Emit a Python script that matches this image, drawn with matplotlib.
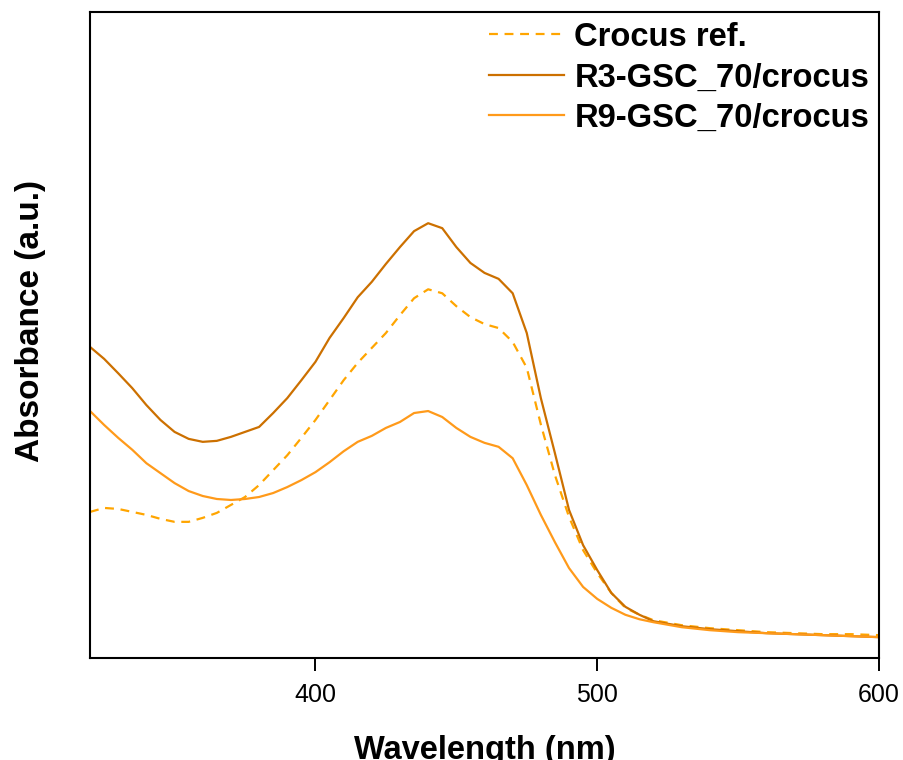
import numpy as np
import matplotlib.pyplot as plt

# wavelength grid (nm) and absorbance (a.u.)
wavelength = [320, 325, 330, 335, 340, 345, 350, 355, 360, 365, 370, 375, 380, 385,
              390, 395, 400, 405, 410, 415, 420, 425, 430, 435, 440, 445, 450, 455,
              460, 465, 470, 475, 480, 485, 490, 495, 500, 505, 510, 515, 520, 530,
              540, 550, 560, 570, 580, 590, 600]

crocus_ref = [0.294, 0.302, 0.300, 0.294, 0.288, 0.280, 0.274, 0.274, 0.282, 0.292,
              0.308, 0.324, 0.348, 0.378, 0.408, 0.443, 0.479, 0.519, 0.559, 0.594,
              0.624, 0.654, 0.690, 0.724, 0.742, 0.734, 0.708, 0.686, 0.672, 0.664,
              0.636, 0.584, 0.470, 0.368, 0.284, 0.217, 0.171, 0.131, 0.101, 0.087,
              0.076, 0.066, 0.060, 0.056, 0.052, 0.050, 0.048, 0.048, 0.046]

r3_gsc = [0.626, 0.602, 0.573, 0.543, 0.509, 0.479, 0.455, 0.441, 0.435, 0.437,
          0.445, 0.455, 0.465, 0.493, 0.523, 0.559, 0.596, 0.644, 0.684, 0.726,
          0.757, 0.793, 0.827, 0.859, 0.875, 0.865, 0.827, 0.795, 0.775, 0.763,
          0.734, 0.654, 0.523, 0.412, 0.298, 0.227, 0.177, 0.131, 0.103, 0.087,
          0.074, 0.064, 0.058, 0.054, 0.050, 0.048, 0.046, 0.044, 0.042]

r9_gsc = [0.497, 0.469, 0.443, 0.419, 0.392, 0.372, 0.352, 0.336, 0.326, 0.320,
          0.318, 0.320, 0.324, 0.332, 0.344, 0.358, 0.374, 0.394, 0.416, 0.435,
          0.447, 0.463, 0.475, 0.493, 0.497, 0.485, 0.463, 0.445, 0.433, 0.425,
          0.402, 0.348, 0.288, 0.233, 0.181, 0.143, 0.119, 0.101, 0.087, 0.078,
          0.072, 0.062, 0.056, 0.052, 0.050, 0.048, 0.046, 0.044, 0.042]

labels = ['Crocus ref.', 'R3-GSC_70/crocus', 'R9-GSC_70/crocus']
xticks = [400, 500, 600]

plt.rcParams['font.family'] = ['Liberation Sans', 'DejaVu Sans']

fig = plt.figure(figsize=(9.04, 7.6), dpi=100)
ax = fig.add_axes([0.0996, 0.1342, 0.8727, 0.85])

ax.plot(wavelength, crocus_ref, ls=(0, (4, 3)), color='#FFA500', lw=1.6, label=labels[0])
ax.plot(wavelength, r3_gsc, color='#CC7000', lw=1.6, label=labels[1])
ax.plot(wavelength, r9_gsc, color='#FF9A1A', lw=1.6, label=labels[2])

ax.set_xlim(320, 600)
ax.set_ylim(0, 1.3)
ax.set_xticks(xticks)
ax.set_xticklabels([str(t) for t in xticks], fontsize=18)
ax.set_yticks([])
ax.tick_params(axis='x', direction='out', length=9, width=1.4, pad=9)

for s in ax.spines.values():
    s.set_linewidth(1.5)

ax.set_xlabel('Wavelength (nm)', fontweight='bold', fontsize=23.5, labelpad=20)
ax.set_ylabel('Absorbance (a.u.)', fontweight='bold', fontsize=24)
ax.yaxis.set_label_coords(-0.056, 0.522)

ax.legend(loc='upper right', frameon=False, prop={'weight': 'bold', 'size': 23.6},
          handlelength=2.3, handletextpad=0.3, labelspacing=0.29,
          borderaxespad=0.05, borderpad=0.25)

fig.savefig('out.png', dpi=100)
